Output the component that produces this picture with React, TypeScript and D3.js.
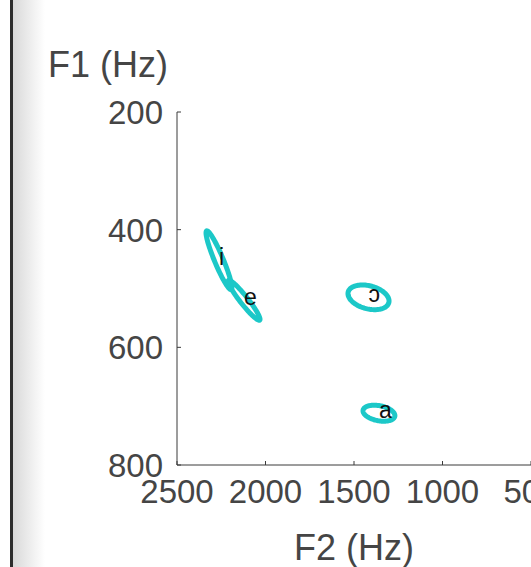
import React from "react";
import * as d3 from "d3";

const F2_TICKS = [2500, 2000, 1500, 1000, 500];
const F1_TICKS = [200, 400, 600, 800];
const VOWELS = ["i", "e", "ɔ", "a"];
const MEAN_F2 = [2263, 2121, 1418, 1359];
const MEAN_F1 = [452, 520, 515, 712];
const SPREAD_F2 = [73, 90, 116, 90];
const SPREAD_F1 = [50, 34, 21, 13.6];
const CORR = [-0.93, -0.95, -0.3, -0.3];

const W = 531;
const H = 567;
const FONT = "'Liberation Sans', Arial, Helvetica, sans-serif";
const TEXT = "#454545";
const AXIS = "#3a3a3a";
const CYAN = "#1cc8c8";

export default function App() {
  const x = d3.scaleLinear().domain([2500, 500]).range([177, 531]);
  const y = d3.scaleLinear().domain([200, 800]).range([112, 465]);
  const x0 = x(2500);
  const yB = y(800);

  const line = d3
    .line<[number, number]>()
    .x((d) => x(d[0]))
    .y((d) => y(d[1]))
    .curve(d3.curveLinearClosed);

  const ellipses = VOWELS.map((v, i) => {
    const pts: [number, number][] = d3.range(120).map((k) => {
      const t = (k / 120) * Math.PI * 2;
      const r = CORR[i];
      const f2 = MEAN_F2[i] + SPREAD_F2[i] * Math.cos(t);
      const f1 =
        MEAN_F1[i] +
        SPREAD_F1[i] * (r * Math.cos(t) + Math.sqrt(1 - r * r) * Math.sin(t));
      return [f2, f1];
    });
    return line(pts) as string;
  });

  return (
    <svg
      width={W}
      height={H}
      style={{ position: "absolute", left: 0, top: 0, background: "#fff" }}
    >
      <defs>
        <linearGradient id="shade" x1="0" x2="1" y1="0" y2="0">
          <stop offset="0" stopColor="#d9d9d9" />
          <stop offset="1" stopColor="#ffffff" />
        </linearGradient>
      </defs>
      <rect x={0} y={0} width={W} height={H} fill="#fff" />
      <rect x={13} y={0} width={32} height={H} fill="url(#shade)" />
      <rect x={10} y={0} width={3} height={H} fill="#2d2d2d" />

      {/* axes */}
      <line x1={x0} x2={x0} y1={y(200)} y2={yB} stroke={AXIS} strokeWidth={1} />
      <line x1={x0} x2={W} y1={yB} y2={yB} stroke={AXIS} strokeWidth={1} />
      {F2_TICKS.map((t) => (
        <g key={"x" + t}>
          <line x1={x(t)} x2={x(t)} y1={yB} y2={yB - 4} stroke={AXIS} strokeWidth={1} />
          <text
            x={x(t)}
            y={yB + 38}
            textAnchor="middle"
            fontFamily={FONT}
            fontSize={33}
            fill={TEXT}
          >
            {t}
          </text>
        </g>
      ))}
      {F1_TICKS.map((t) => (
        <g key={"y" + t}>
          <line x1={x0} x2={x0 + 4} y1={y(t)} y2={y(t)} stroke={AXIS} strokeWidth={1} />
          <text
            x={x0 - 14}
            y={y(t)}
            dy="0.36em"
            textAnchor="end"
            fontFamily={FONT}
            fontSize={33}
            fill={TEXT}
          >
            {t}
          </text>
        </g>
      ))}
      <text
        x={(x0 + W) / 2}
        y={560}
        textAnchor="middle"
        fontFamily={FONT}
        fontSize={36}
        fill={TEXT}
      >
        F2 (Hz)
      </text>
      <text
        x={168}
        y={77}
        textAnchor="end"
        fontFamily={FONT}
        fontSize={36}
        fill={TEXT}
      >
        F1 (Hz)
      </text>

      {/* ellipses */}
      {ellipses.map((d, i) => (
        <path key={"e" + i} d={d} fill="none" stroke={CYAN} strokeWidth={5} />
      ))}
      {VOWELS.map((v, i) => (
        <text
          key={"t" + i}
          x={x(MEAN_F2[i])}
          y={y(MEAN_F1[i])}
          dy="0.22em"
          textAnchor="start"
          fontFamily={FONT}
          fontSize={23}
          fill="#111"
        >
          {v}
        </text>
      ))}
    </svg>
  );
}
